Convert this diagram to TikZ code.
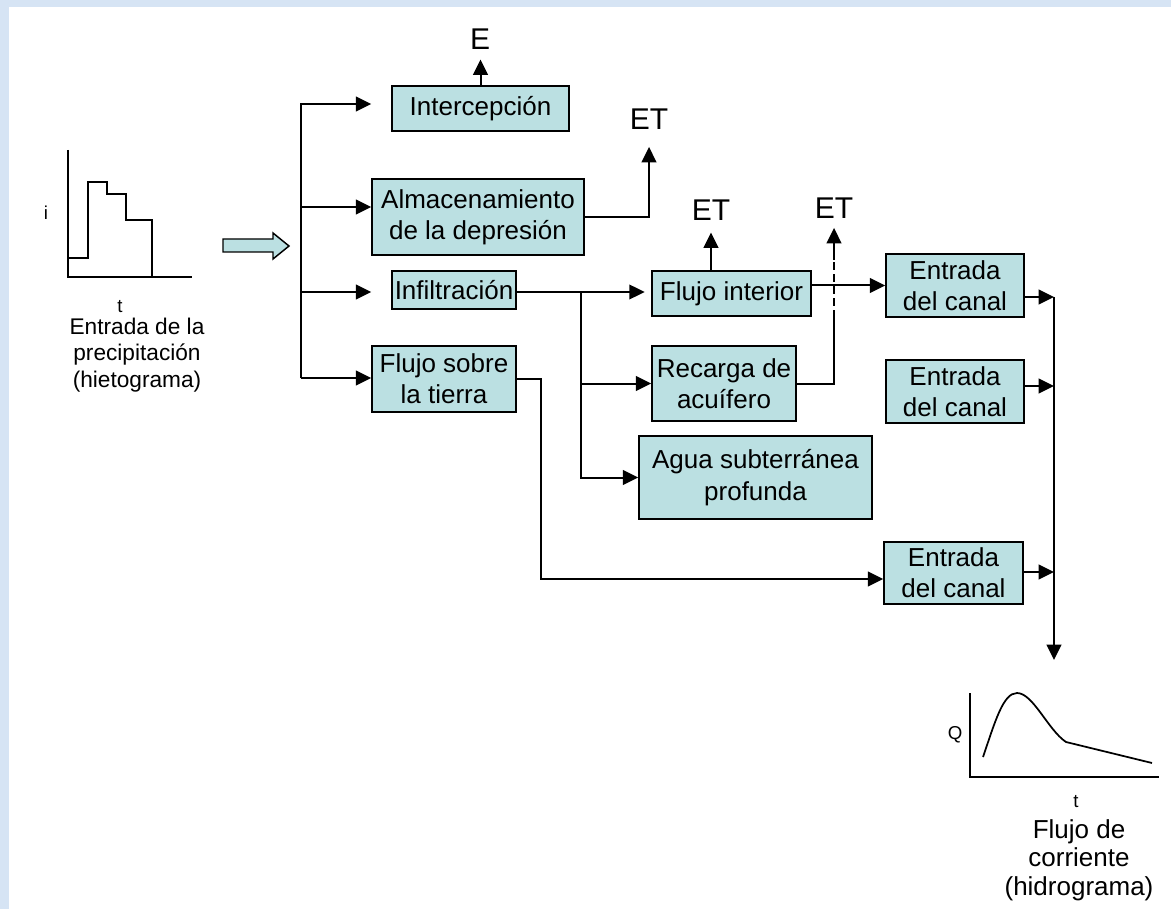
\documentclass[tikz,border=0pt]{standalone}
\usepackage{fontspec}
\setmainfont{Liberation Sans}
\usetikzlibrary{arrows.meta}
\definecolor{boxfill}{RGB}{187,224,226}
\definecolor{bgblue}{RGB}{214,228,244}
\begin{document}
\begin{tikzpicture}[x=0.75pt,y=-0.75pt,
 box/.style={draw, fill=boxfill, line width=1.1pt, inner sep=0pt, align=center, font=\fontsize{19.5}{23.5}\selectfont},
 sz/.style 2 args={minimum width=#1*0.75pt, minimum height=#2*0.75pt},
 arr/.style={-{Triangle[length=11.5pt,width=11pt]}, line width=1.5pt},
 ln/.style={line width=1.5pt},
 lbl/.style={inner sep=0pt, font=\fontsize{22.5}{26}\selectfont},
 small/.style={inner sep=0pt, font=\fontsize{14}{16}\selectfont},
 captxt/.style={inner sep=0pt, align=center, font=\fontsize{17}{20}\selectfont}]

\fill[bgblue] (0,0) rectangle (1171,909);
\fill[white] (9,7) rectangle (1171,909);
\useasboundingbox (0,0) rectangle (1171,909);

% boxes (centre, size in px)
\node[box, sz={177}{45}] (inter) at (480.5,108.5) {Intercepción};
\node[box, sz={212}{76}] (alm) at (478,217) {Almacenamiento\\de la depresión};
\node[box, sz={124}{38}] (inf) at (454,290) {Infiltración};
\node[box, sz={144}{66}] (fs) at (444,379) {Flujo sobre\\la tierra};
\node[box, sz={159}{45}] (fi) at (731.5,293.5) {Flujo interior};
\node[box, sz={144}{75}] (rec) at (724,383.5) {Recarga de\\acuífero};
\node[box, sz={233}{83}] (agua) at (755.5,477.5) {Agua subterránea\\profunda};
\node[box, sz={138}{63}] (e1) at (955,285.5) {Entrada\\del canal};
\node[box, sz={138}{63}] (e2) at (955,391.5) {Entrada\\del canal};
\node[box, sz={139}{62}] (e3) at (953.5,573) {Entrada\\del canal};

% labels
\node[lbl] (E) at (480,39) {E};
\node[lbl] (et1) at (649,119) {ET};
\node[lbl] (et2) at (711,210) {ET};
\node[lbl] (et3) at (834,208) {ET};

% bus
\coordinate (b1) at (301,104);
\coordinate (b2) at (301,207);
\coordinate (b3) at (301,292);
\coordinate (b4) at (301,378);
\draw[arr, shorten >=15pt] (b4) -- (b1) -- (b1 -| inter.west);
\draw[arr] (b2) -- (b2 -| alm.west);
\draw[arr, shorten >=15pt] (b3) -- (b3 -| inf.west);
\draw[arr] (b4) -- (b4 -| fs.west);

% evaporation
\draw[arr, shorten >=7.5pt] (inter.north) -- (inter.north |- E.south);
\draw[arr, shorten >=13pt] (alm.east) -| (et1.south);
\draw[arr, shorten >=9pt] (et2.south |- fi.north) -- (et2.south);

% infiltration branches
\coordinate (j1) at (581,292);
\draw[arr, shorten >=5pt] (inf.east |- j1) -- (j1 -| fi.west);
\draw[arr] (j1) |- (rec.west);
\draw[arr] (j1) |- (agua.west);

% recharge to ET
\coordinate (d1) at (834,318);
\coordinate (d2) at (834,260);
\draw[ln] (rec.east) -| (d1);
\draw[ln, dash pattern=on 6pt off 3pt] (d1) -- (d2);
\draw[arr, shorten >=7pt] (d2) -- (et3.south);

% interior flow to channel
\draw[arr] (fi.east |- e1.west) -- (e1.west);

% overland flow to channel
\coordinate (c3) at (541,579);
\draw[arr] (fs.east) -| (c3) -- (c3 -| e3.west);

% collector
\coordinate (o1) at (1054,297);
\coordinate (o2) at (1054,386);
\coordinate (o3) at (1054,572);
\coordinate (bot) at (1054,660);
\draw[arr] (e1.east |- o1) -- (o1);
\draw[arr] (e2.east |- o2) -- (o2);
\draw[arr] (e3.east |- o3) -- (o3);
\draw[arr] (o1) -- (bot);

% hietograma
\draw[ln] (68,150) -- (68,277) -- (192,277);
\draw[ln] (68,258) -- (88,258) -- (88,182) -- (107,182) -- (107,194) -- (126,194) -- (126,220) -- (152,220) -- (152,277);
\node[small] (li) at (46,213) {i};
\node[small] (lt1) at (120,307) {t};
\node[captxt] (capl) at (137,355) {Entrada de la\\precipitación\\(hietograma)};

% block arrow
\draw[fill=boxfill, line width=1.1pt] (223,239) -- (273,239) -- (273,233) -- (289,246) -- (273,259) -- (273,252) -- (223,252) -- cycle;

% hidrograma
\draw[ln] (970,693) -- (970,777) -- (1159,777);
\draw[line width=1.3pt] (983,757) .. controls (995,722) and (1003,693) .. (1017,693) .. controls (1033,693) and (1048,730) .. (1066,742) -- (1152,763);
\node[small] (lq) at (955,735) {Q};
\node[small] (lt2) at (1076,802) {t};
\node[captxt, font=\fontsize{19.5}{21.5}\selectfont] (capr) at (1079,860) {Flujo de\\corriente\\(hidrograma)};
\end{tikzpicture}
\end{document}
